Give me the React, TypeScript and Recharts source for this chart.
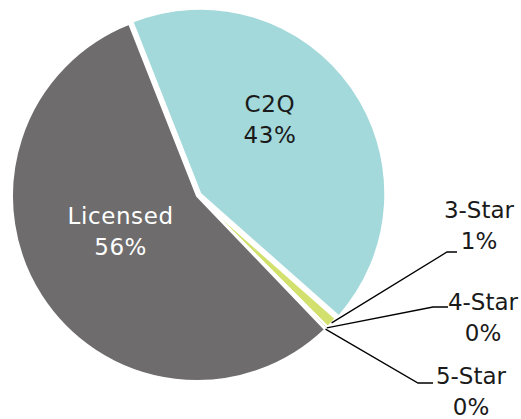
import React from 'react';
import { PieChart, Pie, Cell } from 'recharts';

const names = ['C2Q', '3-Star', '4-Star', '5-Star', 'Licensed'];
const values = [42.5, 1.0, 0.2, 0.1, 56.2];
const colors = ['#A3D9DA', '#D2E06E', '#9BBB59', '#4F81BD', '#6E6C6D'];

const data = names.map((name, i) => ({ name, value: values[i] }));

const RAD = Math.PI / 180;
const CX = 197;
const CY = 196;
const R = 185;
const START = 111.5;
const EXPLODE = 4;

// inner labels: angle shift (recharts degrees) and radius fraction
const innerLayout: Record<string, { shift: number; frac: number; color: string }> = {
  C2Q: { shift: 11.8, frac: 0.55, color: '#1a1a1a' },
  Licensed: { shift: -7.8, frac: 0.455, color: '#ffffff' },
};

// outer labels: elbow / line end / text, relative to pie centre
const outerLayout: Record<string, { ex: number; ey: number; lx: number; tx: number; ty: number }> = {
  '3-Star': { ex: 250, ey: 56, lx: 260, tx: 282, ty: 14 },
  '4-Star': { ex: 236, ey: 111, lx: 251, tx: 286, ty: 106 },
  '5-Star': { ex: 221, ey: 187, lx: 236, tx: 274, ty: 180 },
};

const total = values.reduce((a, b) => a + b, 0);
const c2qMid = START - (values[0] / total) * 360 / 2;
const OX = EXPLODE * Math.cos(-c2qMid * RAD);
const OY = EXPLODE * Math.sin(-c2qMid * RAD);

const FONT = '"DejaVu Sans", sans-serif';
const LINE = 31;

const makeLabel = (exploded: boolean) => (props: any) => {
  const { cx, cy, midAngle, outerRadius, name, value } = props;
  if (exploded !== (name === 'C2Q')) return null;
  const pct = `${Math.round((value / total) * 100)}%`;
  const inner = innerLayout[name];
  if (inner) {
    const a = midAngle + inner.shift;
    const r = outerRadius * inner.frac;
    const x = cx + r * Math.cos(-a * RAD);
    const y = cy + r * Math.sin(-a * RAD);
    return (
      <text x={x} y={y} fill={inner.color} fontSize={23} letterSpacing={0.6} fontFamily={FONT} textAnchor="middle">
        <tspan x={x} y={y - LINE / 2} dominantBaseline="central">{name}</tspan>
        <tspan x={x} y={y + LINE / 2} dominantBaseline="central">{pct}</tspan>
      </text>
    );
  }
  const o = outerLayout[name];
  if (!o) return null;
  const sx = cx + outerRadius * Math.cos(-midAngle * RAD);
  const sy = cy + outerRadius * Math.sin(-midAngle * RAD);
  return (
    <g>
      <polyline
        points={`${sx},${sy} ${cx + o.ex},${cy + o.ey} ${cx + o.lx},${cy + o.ey}`}
        fill="none"
        stroke="#000"
        strokeWidth={1.3}
      />
      <text fill="#1a1a1a" fontSize={23} fontFamily={FONT} textAnchor="middle">
        <tspan x={cx + o.tx} y={cy + o.ty} dominantBaseline="central">{name}</tspan>
        <tspan x={cx + o.tx} y={cy + o.ty + LINE} dominantBaseline="central">{pct}</tspan>
      </text>
    </g>
  );
};

export default function App() {
  return (
    <div style={{ width: 521, height: 419, background: '#fff' }}>
      <style>{'body{margin:0}'}</style>
      <PieChart width={521} height={419} margin={{ top: 0, right: 0, bottom: 0, left: 0 }}>
        <Pie
          data={data}
          dataKey="value"
          nameKey="name"
          cx={CX}
          cy={CY}
          outerRadius={R}
          startAngle={START}
          endAngle={START - 360}
          stroke="#fff"
          strokeWidth={2}
          label={makeLabel(false)}
          labelLine={false}
          isAnimationActive={false}
        >
          {data.map((d, i) => (
            <Cell
              key={d.name}
              fill={d.name === 'C2Q' ? 'none' : colors[i]}
              stroke={d.name === 'C2Q' ? 'none' : '#fff'}
            />
          ))}
        </Pie>
        <Pie
          data={data}
          dataKey="value"
          nameKey="name"
          cx={CX + OX}
          cy={CY + OY}
          outerRadius={R}
          startAngle={START}
          endAngle={START - 360}
          stroke="#fff"
          strokeWidth={2}
          label={makeLabel(true)}
          labelLine={false}
          isAnimationActive={false}
        >
          {data.map((d, i) => (
            <Cell
              key={d.name}
              fill={d.name === 'C2Q' ? colors[i] : 'none'}
              stroke={d.name === 'C2Q' ? '#fff' : 'none'}
            />
          ))}
        </Pie>
      </PieChart>
    </div>
  );
}
